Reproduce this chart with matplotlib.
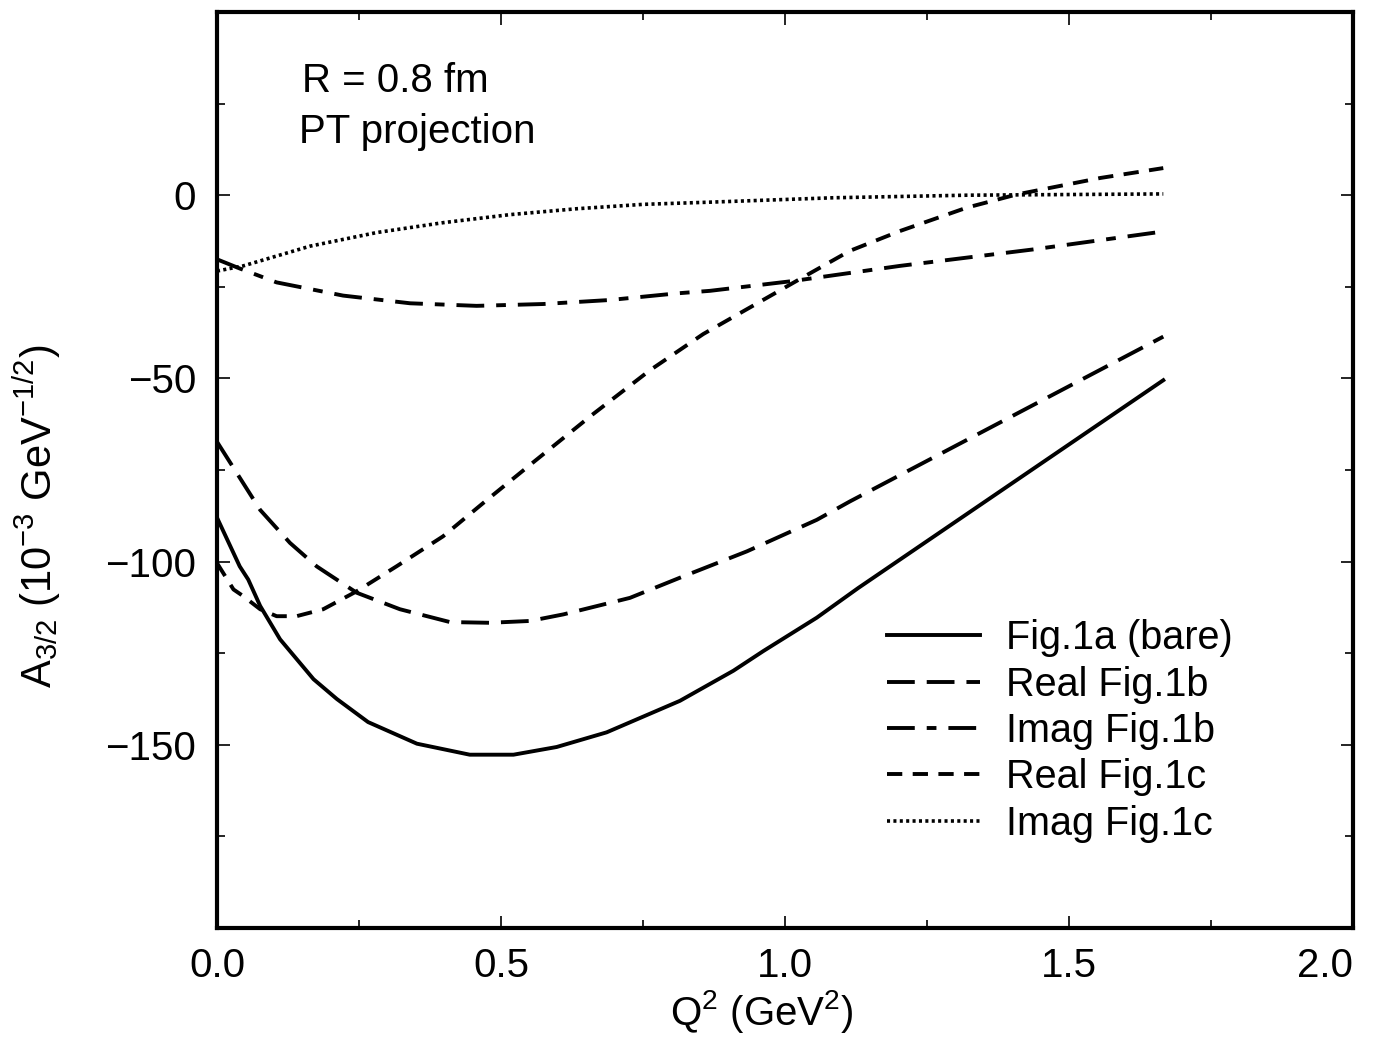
import matplotlib
matplotlib.use("Agg")
import matplotlib.pyplot as plt
from matplotlib.ticker import MultipleLocator

plt.rcParams['font.family'] = ['Liberation Sans', 'DejaVu Sans']
plt.rcParams['mathtext.fontset'] = 'custom'
plt.rcParams['mathtext.rm'] = 'Liberation Sans'
plt.rcParams['mathtext.it'] = 'Liberation Sans'
plt.rcParams['mathtext.bf'] = 'Liberation Sans'
plt.rcParams['lines.scale_dashes'] = False

# ---- data ----
x_bare = [0, 0.04, 0.055, 0.076, 0.111, 0.17, 0.211, 0.266, 0.352, 0.445, 0.522,
          0.598, 0.686, 0.815, 0.909, 0.962, 1.056, 1.129, 1.666]
y_bare = [-88.0, -101.3, -104.9, -112.1, -121.2, -132.1, -137.5, -143.8, -149.7, -152.7,
          -152.7, -150.6, -146.6, -138.0, -129.8, -124.4, -115.3, -107.2, -50.5]

x_re1b = [0, 0.076, 0.1285, 0.1755, 0.193, 0.246, 0.322, 0.41, 0.48, 0.551, 0.61,
          0.727, 0.815, 0.933, 1.056, 1.114, 1.666]
y_re1b = [-67.3, -85.9, -94.9, -101.3, -103.1, -108.5, -113.0, -116.5, -116.7, -116.2,
          -114.4, -109.9, -104.4, -97.2, -88.6, -83.6, -38.6]

x_im1b = [0, 0.04, 0.105, 0.222, 0.34, 0.457, 0.574, 0.692, 0.809, 0.868, 1.015,
          1.202, 1.437, 1.666]
y_im1b = [-17.5, -20.0, -23.8, -27.4, -29.5, -30.2, -29.7, -28.6, -26.8, -26.1, -23.4,
          -19.3, -14.8, -9.9]

x_re1c = [0, 0.029, 0.046, 0.076, 0.105, 0.14, 0.187, 0.246, 0.316, 0.398, 0.475,
          0.56, 0.66, 0.762, 0.856, 1.026, 1.114, 1.202, 1.32, 1.408, 1.555, 1.666]
y_re1c = [-100.4, -107.6, -109.4, -113.0, -114.9, -114.9, -113.0, -108.1, -101.3, -93.1,
          -83.2, -72.5, -60.0, -47.8, -37.9, -22.9, -15.2, -9.8, -3.4, 0.2, 4.7, 7.4]

x_im1c = [0, 0.046, 0.164, 0.281, 0.398, 0.516, 0.633, 0.75, 0.868, 1.085, 1.32, 1.666]
y_im1c = [-20.7, -19.3, -13.9, -10.2, -7.5, -5.3, -3.7, -2.5, -1.9, -0.7, 0.0, 0.35]

labels = ["Fig.1a (bare)", "Real Fig.1b", "Imag Fig.1b", "Real Fig.1c", "Imag Fig.1c"]
xtick_vals = [0, 0.5, 1.0, 1.5, 2.0]
xtick_labels = ["0.0", "0.5", "1.0", "1.5", "2.0"]
ytick_vals = [-150, -100, -50, 0]
ytick_labels = ["\u2212150", "\u2212100", "\u221250", "0"]

fig = plt.figure(figsize=(13.73, 10.40), dpi=100)
ax = fig.add_axes([217/1373, 1 - 928/1040, (1353-217)/1373, (928-12)/1040])

lw = 2.8
ax.plot(x_bare, y_bare, color='black', lw=lw, label=labels[0])
ax.plot(x_re1b, y_re1b, color='black', lw=lw, dashes=(20, 8.6), dash_capstyle='butt', label=labels[1])
ax.plot(x_im1b, y_im1b, color='black', lw=lw, dashes=(20, 8.6, 7, 8.6), dash_capstyle='butt', label=labels[2])
ax.plot(x_re1c, y_re1c, color='black', lw=lw, dashes=(11, 7.5), dash_capstyle='butt', label=labels[3])
ax.plot(x_im1c, y_im1c, color='black', lw=2.6, dashes=(2.2, 2.4), dash_capstyle='butt', label=labels[4])

ax.set_xlim(0, 2.0)
ax.set_ylim(-200, 50)
ax.xaxis.set_minor_locator(MultipleLocator(0.25))
ax.yaxis.set_minor_locator(MultipleLocator(25))
ax.set_xticks(xtick_vals)
ax.set_xticklabels(xtick_labels)
ax.set_yticks(ytick_vals)
ax.set_yticklabels(ytick_labels)
ax.tick_params(which='major', direction='in', length=9, width=1.2, top=True, right=True,
               labelsize=29)
ax.tick_params(axis='y', which='major', pad=15)
ax.tick_params(axis='x', which='major', pad=14)
ax.tick_params(which='minor', direction='in', length=6, width=1.2, top=True, right=True)
xl = ax.get_xticklabels()
xl[-1].set_horizontalalignment('right')
for s in ax.spines.values():
    s.set_linewidth(3)

ax.set_xlabel(r"Q$^{2}$ (GeV$^{2}$)", fontsize=29)
ax.xaxis.set_label_coords(0.48, -0.066)
ax.set_ylabel(r"A$_{3/2}$ (10$^{-3}$ GeV$^{-1/2}$)", fontsize=30)
ax.yaxis.set_label_coords(-0.136, 0.449)

ax.text(0.075, 0.925, "R = 0.8 fm", transform=ax.transAxes, fontsize=29, va='center', ha='left')
ax.text(0.072, 0.869, "PT projection", transform=ax.transAxes, fontsize=29, va='center', ha='left')

leg = ax.legend(loc='upper left', bbox_to_anchor=(0.59, 0.337), frameon=False, fontsize=28.5,
                handlelength=2.35, handletextpad=0.65, labelspacing=0.21, borderpad=0,
                borderaxespad=0)

fig.savefig("out.png", dpi=100)
